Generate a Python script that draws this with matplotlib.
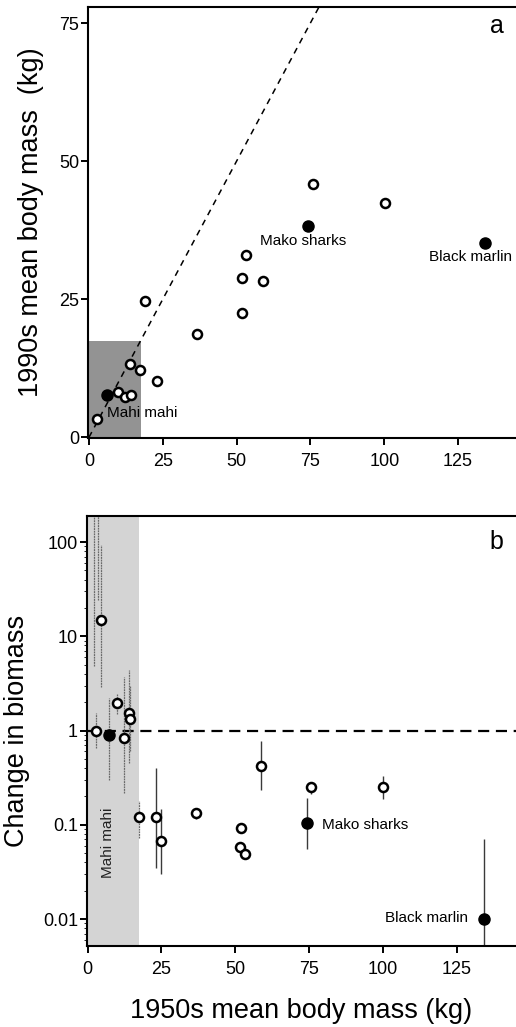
import numpy as np
import matplotlib
matplotlib.use("Agg")
import matplotlib.pyplot as plt

plt.rcParams['font.family'] = ['Liberation Sans', 'DejaVu Sans']

# panel a: mean body mass, 1950s vs 1990s (kg)
mass_1950 = [2.7, 6.1, 9.8, 12.2, 14.2, 13.9, 17.3, 19.0, 23.1, 36.6,
             51.9, 51.9, 53.2, 59.0, 74.3, 76.0, 100.3, 134.2]
mass_1990 = [3.3, 7.6, 8.2, 7.3, 7.6, 13.3, 12.2, 24.7, 10.2, 18.7,
             22.5, 28.9, 33.1, 28.4, 38.2, 45.8, 42.5, 35.1]
named_a = [1, 14, 17]  # mahi mahi, mako sharks, black marlin

# panel b: change in biomass with error bars
b_mass = [3.0, 4.6, 7.4, 9.8, 12.2, 13.9, 14.2, 17.3, 23.0, 24.7, 36.6,
          51.9, 51.5, 53.2, 58.6, 74.3, 75.5, 100.0, 134.0]
b_change = [1.0, 15.0, 0.9, 1.98, 0.84, 1.52, 1.34, 0.12, 0.12, 0.068, 0.135,
            0.093, 0.058, 0.049, 0.42, 0.105, 0.25, 0.25, 0.01]
b_lo = [0.66, 2.87, 0.3, 1.5, 0.22, 0.45, 0.6, 0.073, 0.035, 0.030, 0.116,
        np.nan, np.nan, np.nan, 0.236, 0.056, 0.21, 0.19, 0.001]
b_hi = [1.55, 93.0, 2.19, 2.45, 3.66, 4.35, 3.0, 0.18, 0.4, 0.148, 0.15,
        np.nan, np.nan, np.nan, 0.78, 0.194, 0.28, 0.33, 0.071]
named_b = [2, 15, 18]
# bars whose estimates lie above the plotted range
off_mass = [2.0, 3.6]
off_lo = [4.9, 24.0]
off_hi = [1000.0, 1000.0]

shade_max = 17.5
W, H = 516, 1027
fig = plt.figure(figsize=(W / 100, H / 100), dpi=100)

def px_axes(left, top, bottom, right=W):
    return fig.add_axes([left / W, 1 - bottom / H, (right - left) / W, (bottom - top) / H])

def style(ax):
    ax.spines['right'].set_visible(False)
    for s in ['left', 'bottom', 'top']:
        ax.spines[s].set_linewidth(1.5)
    ax.tick_params(direction='out', length=5, width=1.4, labelsize=13)
    ax.tick_params(axis='x', pad=6)
    ax.tick_params(axis='y', pad=1.5)
    ax.minorticks_off()

# ---------------- panel a
ax = px_axes(88, 7, 438)
style(ax)
ax.set_xlim(-0.3, 144.6)
ax.set_ylim(-0.1, 77.9)
ax.add_patch(plt.Rectangle((0, 0), shade_max, shade_max, color='#939393', lw=0, zorder=0))
ax.plot([0, 80], [0, 80], ls=(0, (4, 3.5)), color='black', lw=1.1, zorder=1)
x = np.array(mass_1950)
y = np.array(mass_1990)
filled = np.zeros(len(x), bool)
filled[named_a] = True
ax.plot(x[~filled], y[~filled], 'o', ms=6.5, mfc='white', mec='black', mew=1.8, ls='none', zorder=3)
ax.plot(x[filled], y[filled], 'o', ms=8, mfc='black', mec='black', ls='none', zorder=3)
ax.set_xticks([0, 25, 50, 75, 100, 125])
ax.set_yticks([0, 25, 50, 75])
ax.set_ylabel('1990s mean body mass  (kg)', fontsize=19.5, labelpad=11)
ax.text(6.1, 4.4, 'Mahi mahi', fontsize=11, ha='left', va='center')
ax.text(58, 35.5, 'Mako sharks', fontsize=11, ha='left', va='center')
ax.text(143.4, 32.7, 'Black marlin', fontsize=11, ha='right', va='center')
ax.text(0.955, 0.955, 'a', transform=ax.transAxes, fontsize=18, ha='center', va='center')

# ---------------- panel b
bx = px_axes(87, 516, 946)
style(bx)
bx.set_yscale('log')
bx.set_xlim(-0.2, 145)
bx.set_ylim(0.00518, 189)
bx.axvspan(0, shade_max, color='#d4d4d4', lw=0, zorder=0)
bx.axhline(1, ls=(0, (5, 3)), color='black', lw=1.6, zorder=1)
bm = np.array(b_mass)
bc = np.array(b_change)
lo = np.array(b_lo)
hi = np.array(b_hi)
ex = np.concatenate([bm, off_mass])
elo = np.concatenate([lo, off_lo])
ehi = np.concatenate([hi, off_hi])
ok = ~np.isnan(elo)
inside = ex < shade_max
bx.vlines(ex[ok & inside], elo[ok & inside], ehi[ok & inside], colors='#6a6a6a',
          lw=0.9, linestyles=(0, (1.5, 0.6)), zorder=2)
bx.vlines(ex[ok & ~inside], elo[ok & ~inside], ehi[ok & ~inside], colors='#3a3a3a',
          lw=1.0, zorder=2)
fb = np.zeros(len(bm), bool)
fb[named_b] = True
bx.plot(bm[~fb], bc[~fb], 'o', ms=6.5, mfc='white', mec='black', mew=1.8, ls='none', zorder=3)
bx.plot(bm[fb], bc[fb], 'o', ms=8, mfc='black', mec='black', ls='none', zorder=3)
bx.set_xticks([0, 25, 50, 75, 100, 125])
bx.set_yticks([0.01, 0.1, 1, 10, 100])
bx.set_yticklabels(['0.01', '0.1', '1', '10', '100'])
bx.set_ylabel('Change in biomass', fontsize=19.5, labelpad=9)
bx.set_xlabel('1950s mean body mass (kg)', fontsize=19.5, labelpad=14)
bx.text(7.0, 0.065, 'Mahi mahi', fontsize=11, rotation=90, ha='center', va='center',
        color='#222222', bbox=dict(facecolor='#d4d4d4', edgecolor='none', pad=0.5), zorder=4)
bx.text(79.4, 0.1, 'Mako sharks', fontsize=11, ha='left', va='center')
bx.text(128.7, 0.0103, 'Black marlin', fontsize=11, ha='right', va='center')
bx.text(0.955, 0.94, 'b', transform=bx.transAxes, fontsize=18, ha='center', va='center')

fig.savefig('out.png', dpi=100)
